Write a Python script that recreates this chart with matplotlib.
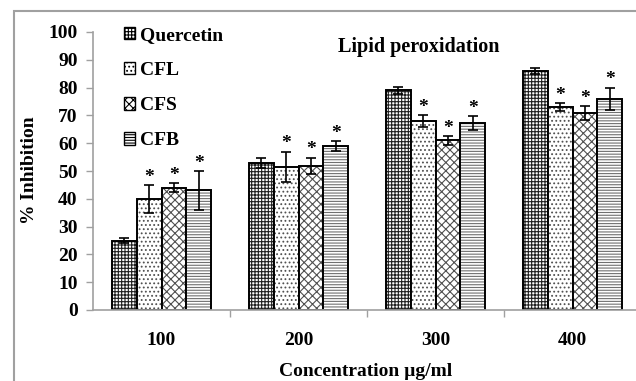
import matplotlib
matplotlib.use("Agg")
import matplotlib.pyplot as plt
import numpy as np
from matplotlib.patches import Rectangle, Patch

categories = ["100", "200", "300", "400"]
series = ["Quercetin", "CFL", "CFS", "CFB"]
quercetin = [25, 53, 79, 86]
cfl = [40, 51.5, 68, 73]
cfs = [44, 51.8, 61, 70.8]
cfb = [43, 59, 67.2, 76]
quercetin_err = [1, 1.8, 1.2, 1]
cfl_err = [5, 5.5, 2, 1.5]
cfs_err = [1.7, 3, 1.5, 2.5]
cfb_err = [7, 1.8, 2.5, 4]
yticks = [0, 10, 20, 30, 40, 50, 60, 70, 80, 90, 100]

values = [quercetin, cfl, cfs, cfb]
errors = [quercetin_err, cfl_err, cfs_err, cfb_err]
hatches = ["+++++", "....", "xxxx", "------"]
hatch_colors = ["#202020", "#505050", "#505050", "#707070"]
starred = [False, True, True, True]

plt.rcParams['hatch.linewidth'] = 0.8
font = ['Liberation Serif', 'DejaVu Serif']
plt.rcParams['font.family'] = font
FS = 14

fig = plt.figure(figsize=(6.36, 3.81), dpi=100)
# figure frame
fig.patches.append(Rectangle((14/636, 1 - 11/381 - 500/381), 700/636, 500/381,
                             transform=fig.transFigure, fill=False,
                             edgecolor="#a0a0a0", linewidth=1.5))
ax = fig.add_axes([93/636, 1 - 310/381, 548/636, 278/381])

x = np.arange(len(categories))
w = 0.182
for i, (vals, errs) in enumerate(zip(values, errors)):
    pos = x + (i - 1.5) * w
    ax.bar(pos, vals, w, color="white", edgecolor=hatch_colors[i],
           hatch=hatches[i], linewidth=0)
    ax.bar(pos, vals, w, fill=False, edgecolor="black", linewidth=1.4)
    ax.errorbar(pos, vals, yerr=errs, fmt="none", ecolor="black",
                elinewidth=1.2, capsize=3.5, capthick=1.2)
    if starred[i]:
        for p, v, e in zip(pos, vals, errs):
            ax.text(p, v + e - 0.3, "*", ha="center", va="bottom",
                    fontsize=FS, fontweight="bold")

ax.set_xlim(-0.5, 3.5)
ax.set_ylim(0, 100)
ax.set_yticks(yticks)
ax.set_yticklabels([str(t) for t in yticks], fontsize=FS, fontweight="bold")
ax.set_xticks(x)
ax.set_xticklabels(categories, fontsize=FS, fontweight="bold")
ax.tick_params(axis="x", length=0, pad=16)
ax.set_xticks(np.arange(0.5, 3.5, 1), minor=True)
ax.tick_params(axis="x", which="minor", length=5, color="#a0a0a0", width=1)
ax.tick_params(axis="y", length=5, color="#a0a0a0", width=1, pad=6)
for s in ["top", "right"]:
    ax.spines[s].set_visible(False)
for s in ["left", "bottom"]:
    ax.spines[s].set_color("#a0a0a0")
    ax.spines[s].set_linewidth(1.2)

ax.set_ylabel("% Inhibition", fontsize=FS, fontweight="bold", va="center")
ax.yaxis.set_label_coords((30 - 93)/548, 0.504)
ax.set_xlabel("Concentration µg/ml", fontsize=FS, fontweight="bold", va="center")
ax.xaxis.set_label_coords(0.498, (310 - 371)/278)

fig.text(419/636, 1 - 47/381, "Lipid peroxidation", ha="center", va="center",
         fontsize=14.5, fontweight="bold")

handles = [Patch(facecolor="white", edgecolor="black", hatch=h, linewidth=1)
           for h in hatches]
leg = ax.legend(handles, series, loc="upper left", bbox_to_anchor=(0.042, 1.046),
                frameon=False, prop={'family': font, 'weight': 'bold', 'size': FS},
                handlelength=0.6, handleheight=0.6, handletextpad=0.25,
                labelspacing=0.93, borderaxespad=0)

fig.savefig("out.png", dpi=100)
